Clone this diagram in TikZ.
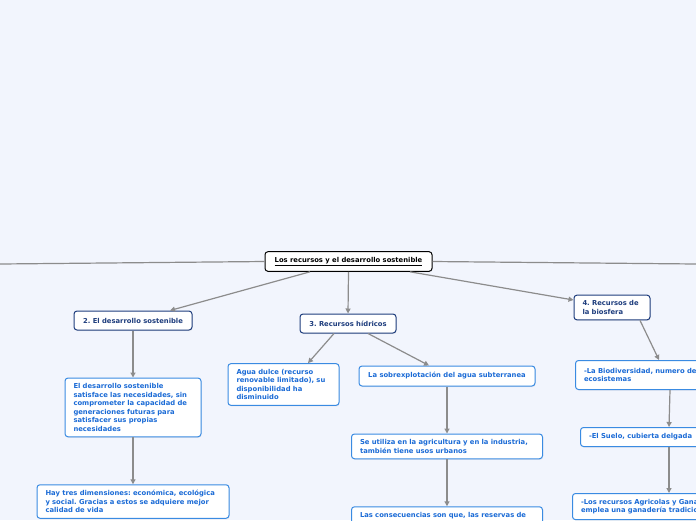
\documentclass[tikz,border=0pt]{standalone}
\usepackage{fontspec}
\setmainfont{DejaVu Sans}
\usepackage{tikz}
\usetikzlibrary{arrows.meta, positioning, shadows}
\definecolor{mapbg}{HTML}{F2F5FD}
\definecolor{mapnavy}{HTML}{1E3D7D}
\definecolor{mapblue}{HTML}{3A8BE2}
\definecolor{maptext}{HTML}{1B6BD6}
\definecolor{mapgray}{HTML}{8C8C8C}
\frenchspacing

\begin{document}
\begin{tikzpicture}[
    x=1pt, y=-1pt,
    node distance=47pt,
    box/.style={draw, fill=white, rounded corners=3pt, line width=1pt,
                font=\fontsize{6.8}{8.5}\selectfont\bfseries, align=left,
                inner xsep=8.5pt, inner ysep=5.5pt,
                drop shadow={opacity=0.12, shadow xshift=0.6pt, shadow yshift=-1pt}},
    rootbox/.style={box, draw=black, text=black, minimum width=167pt,
                    minimum height=19pt, align=center},
    topic/.style={box, draw=mapnavy, text=mapnavy, minimum height=19pt},
    leaf/.style={box, draw=mapblue, text=maptext},
    arr/.style={-{Triangle[length=5pt, width=5pt]}, draw=mapgray, line width=1.2pt},
    link/.style={draw=mapgray, line width=1.2pt}
  ]
    \useasboundingbox (0,0) rectangle (696,520);
    \clip (0,0) rectangle (696,520);
    \fill[mapbg] (0,0) rectangle (696,520);

    \node[rootbox] (root) at (348.5,261.5)
      {\underline{Los recursos y el desarrollo sostenible}};
    \coordinate (westend) at (0,264);
    \coordinate (eastend) at (696,264);

    \node[topic, minimum width=118pt, align=center] (desarrollo) at (133,320.5)
      {2. El desarrollo sostenible};
    \node[topic, minimum width=96pt, align=center] (hidricos) at (348,323.5)
      {3. Recursos hídricos};
    \node[topic, text width=59pt] (biosfera) at (612,307.5)
      {4. Recursos de\\la biosfera};

    \node[leaf, text width=119pt, below=of desarrollo] (definicion)
      {El desarrollo sostenible\\satisface las necesidades, sin\\comprometer la capacidad de\\generaciones futuras para\\satisfacer sus propias\\necesidades};
    \node[leaf, text width=175pt, below=of definicion] (dimensiones)
      {Hay tres dimensiones: económica, ecológica\\y social. Gracias a estos se adquiere mejor\\calidad de vida};

    \node[leaf, text width=94pt] (dulce) at (283.5,384.5)
      {Agua dulce (recurso\\renovable limitado), su\\disponibilidad ha\\disminuido};
    \node[leaf, minimum width=176pt, minimum height=20pt, align=center] (sobre) at (447,376)
      {La sobrexplotación del agua subterranea};
    \node[leaf, text width=174pt, below=of sobre] (usos)
      {Se utiliza en la agricultura y en la industria,\\también tiene usos urbanos};
    \node[leaf, text width=174pt, below=of usos] (consec)
      {Las consecuencias son que, las reservas de};

    \node[leaf, anchor=north west, minimum height=29pt, text width=130pt] (biodiv) at (575,360)
      {-La Biodiversidad, numero de\\ecosistemas};
    \node[leaf, anchor=north west, minimum height=19pt, text width=130pt] (suelo) at (580,427)
      {-El Suelo, cubierta delgada};
    \node[leaf, anchor=north west, text width=150pt] (agricola) at (572,493)
      {-Los recursos Agricolas y Ganaderos\\emplea una ganadería tradicional};

    \draw[link] (root.west) -- (westend);
    \draw[link] (root.east) -- (eastend);

    \draw[arr] ([xshift=-38.5pt]root.south) -- ([xshift=37pt]desarrollo.north);
    \draw[arr] (root.south) -- (hidricos.north);
    \draw[arr] ([xshift=61.5pt]root.south) -- ([yshift=7.5pt]biosfera.west);

    \draw[arr] (desarrollo.south) -- (definicion.north);
    \draw[arr] (definicion.south) -- (dimensiones.north);

    \draw[arr] ([xshift=-14pt]hidricos.south) -- ([xshift=24.5pt]dulce.north);
    \draw[arr] ([xshift=20pt]hidricos.south) -- ([xshift=-18pt]sobre.north);
    \draw[arr] (sobre.south) -- (usos.north);
    \draw[arr] (usos.south) -- (consec.north);

    \draw[arr] ([xshift=28pt]biosfera.south) -- ([xshift=84pt]biodiv.north west);
    \draw[arr] ([xshift=95pt]biodiv.south west) -- ([xshift=89pt]suelo.north west);
    \draw[arr] ([xshift=89pt]suelo.south west) -- ([xshift=97pt]agricola.north west);
  \end{tikzpicture}
\end{document}
